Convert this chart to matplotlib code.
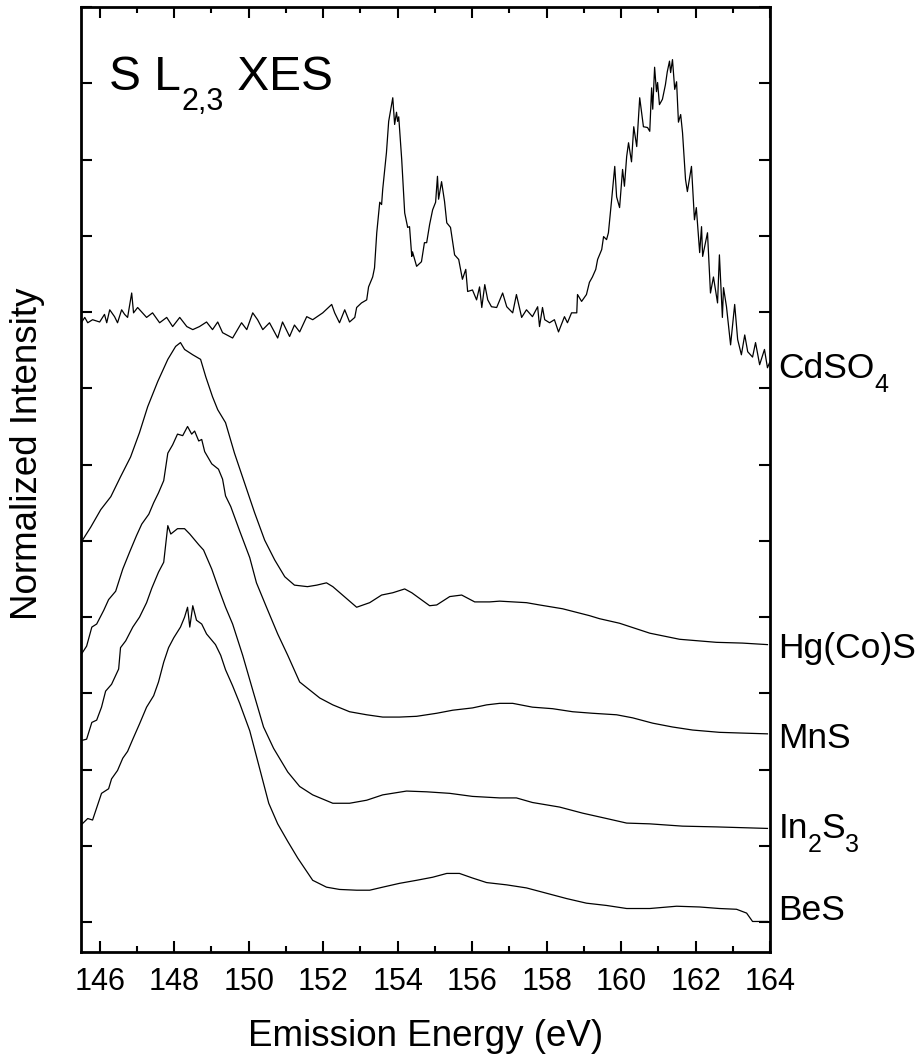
import matplotlib
matplotlib.use('Agg')
import matplotlib.pyplot as plt
import matplotlib.transforms as mtransforms
from matplotlib.ticker import MultipleLocator

plt.rcParams['font.family'] = ['Liberation Sans', 'DejaVu Sans']

# emission energy (eV) and normalized intensity (offset per spectrum)
cdso4_e = [145.52, 145.60, 145.68, 145.81, 146.00, 146.13, 146.19, 146.27, 146.40, 146.48,
           146.59, 146.67, 146.75, 146.86, 146.91, 147.02, 147.15, 147.26, 147.42, 147.61,
           147.80, 147.96, 148.15, 148.34, 148.50, 148.68, 148.87, 149.03, 149.17, 149.30,
           149.57, 149.81, 149.95, 150.11, 150.24, 150.38, 150.56, 150.78, 150.91, 151.10,
           151.23, 151.37, 151.56, 151.72, 151.99, 152.23, 152.31, 152.44, 152.58, 152.71,
           152.85, 152.90, 153.03, 153.17, 153.22, 153.33, 153.38, 153.44, 153.52, 153.57,
           153.60, 153.70, 153.76, 153.87, 153.92, 153.97, 154.00, 154.03, 154.11, 154.19,
           154.27, 154.32, 154.38, 154.40, 154.51, 154.64, 154.72, 154.78, 154.86, 154.94,
           155.02, 155.07, 155.10, 155.18, 155.26, 155.32, 155.42, 155.53, 155.64, 155.74,
           155.83, 155.88, 156.01, 156.12, 156.20, 156.26, 156.34, 156.42, 156.52, 156.66,
           156.82, 156.93, 157.09, 157.19, 157.33, 157.46, 157.62, 157.76,
           157.81, 157.89, 157.95, 158.08, 158.21, 158.32, 158.48, 158.56, 158.67, 158.81,
           158.83, 158.94, 159.07, 159.15, 159.23, 159.32, 159.37, 159.48, 159.53, 159.61,
           159.66, 159.74, 159.83, 159.88, 159.96, 160.04, 160.09, 160.15, 160.20, 160.28,
           160.34, 160.42, 160.50, 160.60, 160.71, 160.77, 160.82, 160.85, 160.90, 160.95,
           160.98, 161.03, 161.11, 161.19, 161.24, 161.30, 161.33, 161.38, 161.44, 161.49,
           161.54, 161.60, 161.65, 161.73, 161.78, 161.89, 161.97, 162.02, 162.11, 162.16,
           162.19, 162.32, 162.40, 162.48, 162.59, 162.64, 162.72, 162.75, 162.83, 162.94,
           163.05, 163.13, 163.23, 163.32, 163.40, 163.53, 163.61, 163.72, 163.85, 163.93,
           163.99]
cdso4_i = [7.87, 7.93, 7.86, 7.90, 7.87, 7.97, 7.86, 8.03, 7.94, 7.86,
           8.03, 7.97, 7.93, 8.25, 7.99, 8.06, 7.99, 7.93, 7.99, 7.86,
           7.93, 7.81, 7.93, 7.81, 7.77, 7.81, 7.87, 7.77, 7.87, 7.73,
           7.66, 7.86, 7.77, 7.99, 7.90, 7.77, 7.86, 7.66, 7.87, 7.68,
           7.83, 7.74, 7.94, 7.90, 7.99, 8.10, 7.99, 7.86, 8.03, 7.87,
           7.93, 8.06, 8.12, 8.16, 8.33, 8.46, 8.58, 9.04, 9.44, 9.41,
           9.61, 10.09, 10.50, 10.81, 10.46, 10.62, 10.50, 10.56, 10.00, 9.30,
           9.11, 9.12, 8.73, 8.79, 8.60, 8.66, 8.91, 8.91, 9.15, 9.34,
           9.44, 9.78, 9.48, 9.71, 9.45, 9.17, 9.11, 8.75, 8.69, 8.43,
           8.56, 8.27, 8.29, 8.16, 8.33, 8.06, 8.36, 8.16, 8.07, 8.06,
           8.25, 8.07, 7.99, 8.23, 7.93, 8.03, 7.94, 8.07,
           7.81, 8.06, 7.90, 7.86, 7.90, 7.74, 7.94, 7.86, 7.99, 7.99,
           8.23, 8.14, 8.23, 8.39, 8.46, 8.56, 8.69, 8.82, 8.99, 8.95,
           9.04, 9.44, 9.91, 9.51, 9.37, 9.87, 9.65, 10.04, 10.22, 9.97,
           10.43, 10.17, 10.81, 10.43, 10.42, 10.37, 10.94, 10.66, 11.21, 10.89,
           11.01, 10.72, 10.79, 10.98, 11.15, 11.29, 11.14, 11.31, 10.92, 11.02,
           10.49, 10.59, 10.35, 9.74, 9.58, 9.91, 9.21, 9.37, 8.78, 9.12,
           8.73, 9.04, 8.25, 8.46, 8.12, 8.75, 7.93, 8.32, 8.07, 7.57,
           8.10, 7.64, 7.44, 7.70, 7.48, 7.41, 7.60, 7.31, 7.51, 7.27,
           7.34]

hgcos_e = [145.54, 145.76, 146.03, 146.30, 146.56, 146.83, 147.07, 147.29, 147.56, 147.83,
           148.04, 148.17, 148.28, 148.50, 148.71, 148.85, 149.03, 149.17, 149.38, 149.62,
           149.89, 150.16, 150.43, 150.70, 150.97, 151.23, 151.58, 151.83, 152.09, 152.26,
           152.90, 153.25, 153.57, 153.87, 154.19, 154.38, 154.86, 155.05, 155.40, 155.72,
           156.07, 156.47, 156.74, 157.46, 157.81, 158.43, 159.15, 159.42, 159.96, 160.77,
           161.57, 162.56, 163.26, 163.93]
hgcos_i = [5.01, 5.18, 5.41, 5.58, 5.84, 6.10, 6.42, 6.76, 7.09, 7.38,
           7.55, 7.60, 7.51, 7.44, 7.38, 7.15, 6.89, 6.72, 6.55, 6.15,
           5.76, 5.37, 5.01, 4.75, 4.53, 4.42, 4.40, 4.42, 4.45, 4.40,
           4.13, 4.19, 4.29, 4.32, 4.37, 4.32, 4.15, 4.16, 4.27, 4.29,
           4.20, 4.20, 4.21, 4.19, 4.16, 4.11, 4.02, 3.98, 3.92, 3.79,
           3.71, 3.67, 3.66, 3.64]

mns_e = [145.49, 145.65, 145.79, 145.92, 146.11, 146.24, 146.43, 146.62, 146.81, 146.99,
         147.13, 147.32, 147.45, 147.58, 147.72, 147.83, 147.96, 148.09, 148.23, 148.36,
         148.47, 148.55, 148.66, 148.74, 148.82, 149.01, 149.19, 149.30, 149.38, 149.52,
         149.76, 150.03, 150.21, 150.48, 150.78, 151.05, 151.37, 151.91, 152.26, 152.71,
         153.17, 153.60, 154.05, 154.51, 155.05, 155.48, 156.01, 156.39, 156.74, 157.09,
         157.62, 158.16, 158.70, 159.23, 159.88, 160.31, 160.85, 161.38, 161.92, 162.64,
         163.26, 163.93]
mns_i = [3.50, 3.62, 3.87, 3.91, 4.09, 4.23, 4.34, 4.63, 4.86, 5.07,
         5.22, 5.35, 5.50, 5.63, 5.79, 6.15, 6.26, 6.40, 6.38, 6.50,
         6.40, 6.44, 6.31, 6.33, 6.17, 6.01, 5.94, 5.81, 5.59, 5.45,
         5.13, 4.78, 4.45, 4.13, 3.78, 3.50, 3.15, 2.94, 2.85, 2.76,
         2.72, 2.69, 2.69, 2.70, 2.74, 2.78, 2.81, 2.85, 2.87, 2.87,
         2.82, 2.80, 2.76, 2.74, 2.72, 2.68, 2.61, 2.56, 2.52, 2.49,
         2.48, 2.47]

in2s3_e = [145.49, 145.65, 145.79, 145.92, 146.05, 146.16, 146.32, 146.51, 146.56, 146.70,
           146.89, 147.07, 147.26, 147.40, 147.58, 147.72, 147.83, 147.91, 148.09, 148.28,
           148.42, 148.66, 148.79, 149.01, 149.19, 149.38, 149.57, 149.84, 150.13, 150.40,
           150.67, 151.05, 151.37, 151.72, 152.26, 152.71, 153.17, 153.60, 154.24, 154.78,
           155.40, 156.01, 156.74, 157.19, 157.62, 158.35, 158.97, 159.61, 160.15, 160.77,
           161.65, 162.56, 163.93]
in2s3_i = [2.38, 2.40, 2.62, 2.65, 2.82, 3.03, 3.12, 3.32, 3.60, 3.69,
           3.87, 4.00, 4.19, 4.38, 4.59, 4.72, 5.20, 5.09, 5.16, 5.16,
           5.09, 4.95, 4.88, 4.63, 4.38, 4.13, 3.91, 3.50, 3.01, 2.56,
           2.28, 1.97, 1.78, 1.67, 1.56, 1.56, 1.60, 1.67, 1.72, 1.71,
           1.69, 1.65, 1.63, 1.63, 1.57, 1.51, 1.43, 1.36, 1.30, 1.29,
           1.26, 1.25, 1.23]

bes_e = [145.49, 145.68, 145.81, 146.05, 146.24, 146.32, 146.48, 146.62, 146.75, 146.89,
         147.07, 147.26, 147.45, 147.58, 147.72, 147.85, 147.99, 148.17, 148.28, 148.36,
         148.42, 148.50, 148.60, 148.74, 148.87, 149.11, 149.25, 149.38, 149.57, 149.76,
         150.03, 150.32, 150.54, 150.78, 151.05, 151.32, 151.72, 152.09, 152.44, 152.90,
         153.25, 153.60, 154.05, 154.51, 154.94, 155.32, 155.66, 156.01, 156.39, 156.93,
         157.46, 158.00, 158.54, 159.07, 159.61, 160.15, 160.77, 161.49, 162.11, 162.64,
         163.10, 163.37, 163.53, 163.93]
bes_i = [1.27, 1.36, 1.34, 1.69, 1.75, 1.88, 1.99, 2.15, 2.24, 2.40,
         2.60, 2.82, 2.97, 3.15, 3.41, 3.60, 3.73, 3.87, 4.00, 4.13,
         3.87, 4.15, 3.96, 3.91, 3.78, 3.64, 3.50, 3.31, 3.10, 2.87,
         2.51, 1.97, 1.56, 1.29, 1.06, 0.84, 0.55, 0.46, 0.43, 0.42,
         0.42, 0.46, 0.51, 0.55, 0.59, 0.64, 0.64, 0.58, 0.52, 0.49,
         0.45, 0.38, 0.31, 0.25, 0.22, 0.18, 0.18, 0.21, 0.20, 0.18,
         0.17, 0.12, 0.01, 0.01]

# sample labels: (text, subscript?) pieces
names = [[('CdSO', False), ('4', True)],
         [('Hg(Co)S', False)],
         [('MnS', False)],
         [('In', False), ('2', True), ('S', False), ('3', True)],
         [('BeS', False)]]
name_y = [7.14, 3.46, 2.28, 1.10, 0.03]

fig = plt.figure(figsize=(9.24, 10.6), dpi=100)
ax = fig.add_axes([0.0877, 0.1019, 0.7457, 0.8915])
renderer = fig.canvas.get_renderer()


def rich_text(x, y, parts, size, subsize, drop, trans):
    # draw pieces one after another, subscripts smaller and lowered (in pixels)
    dx = 0
    for s, sub in parts:
        tr = mtransforms.offset_copy(trans, fig=fig, x=dx, y=-drop if sub else 0, units='dots')
        t = ax.text(x, y, s, transform=tr, fontsize=subsize if sub else size,
                    ha='left', va='baseline', clip_on=False)
        dx += t.get_window_extent(renderer).width


for e, i in [(cdso4_e, cdso4_i), (hgcos_e, hgcos_i), (mns_e, mns_i),
             (in2s3_e, in2s3_i), (bes_e, bes_i)]:
    ax.plot(e, i, color='black', lw=0.9)

ax.set_xlim(145.5, 164.0)
ax.set_ylim(-0.39, 12.0)
ax.xaxis.set_major_locator(MultipleLocator(2))
ax.xaxis.set_minor_locator(MultipleLocator(1))
ax.yaxis.set_major_locator(MultipleLocator(1))
ax.tick_params(axis='both', which='both', direction='in', top=True, right=True,
               width=1.5, labelsize=22, pad=11)
ax.tick_params(axis='both', which='major', length=8)
ax.tick_params(axis='both', which='minor', length=4)
ax.tick_params(axis='y', labelleft=False)
for s in ax.spines.values():
    s.set_linewidth(2)

ax.set_xlabel('Emission Energy (eV)', fontsize=26.5, labelpad=16)
ax.set_ylabel('Normalized Intensity', fontsize=26.5)
ax.yaxis.set_label_coords(-0.052, 0.527)

rich_text(0.041, 0.912, [('S L', False), ('2,3', True), (' XES', False)],
          34.5, 22, 20, ax.transAxes)

for parts, y in zip(names, name_y):
    rich_text(1.012, y, parts, 25.5, 18, 14, ax.get_yaxis_transform())

fig.savefig('out.png', dpi=100)
